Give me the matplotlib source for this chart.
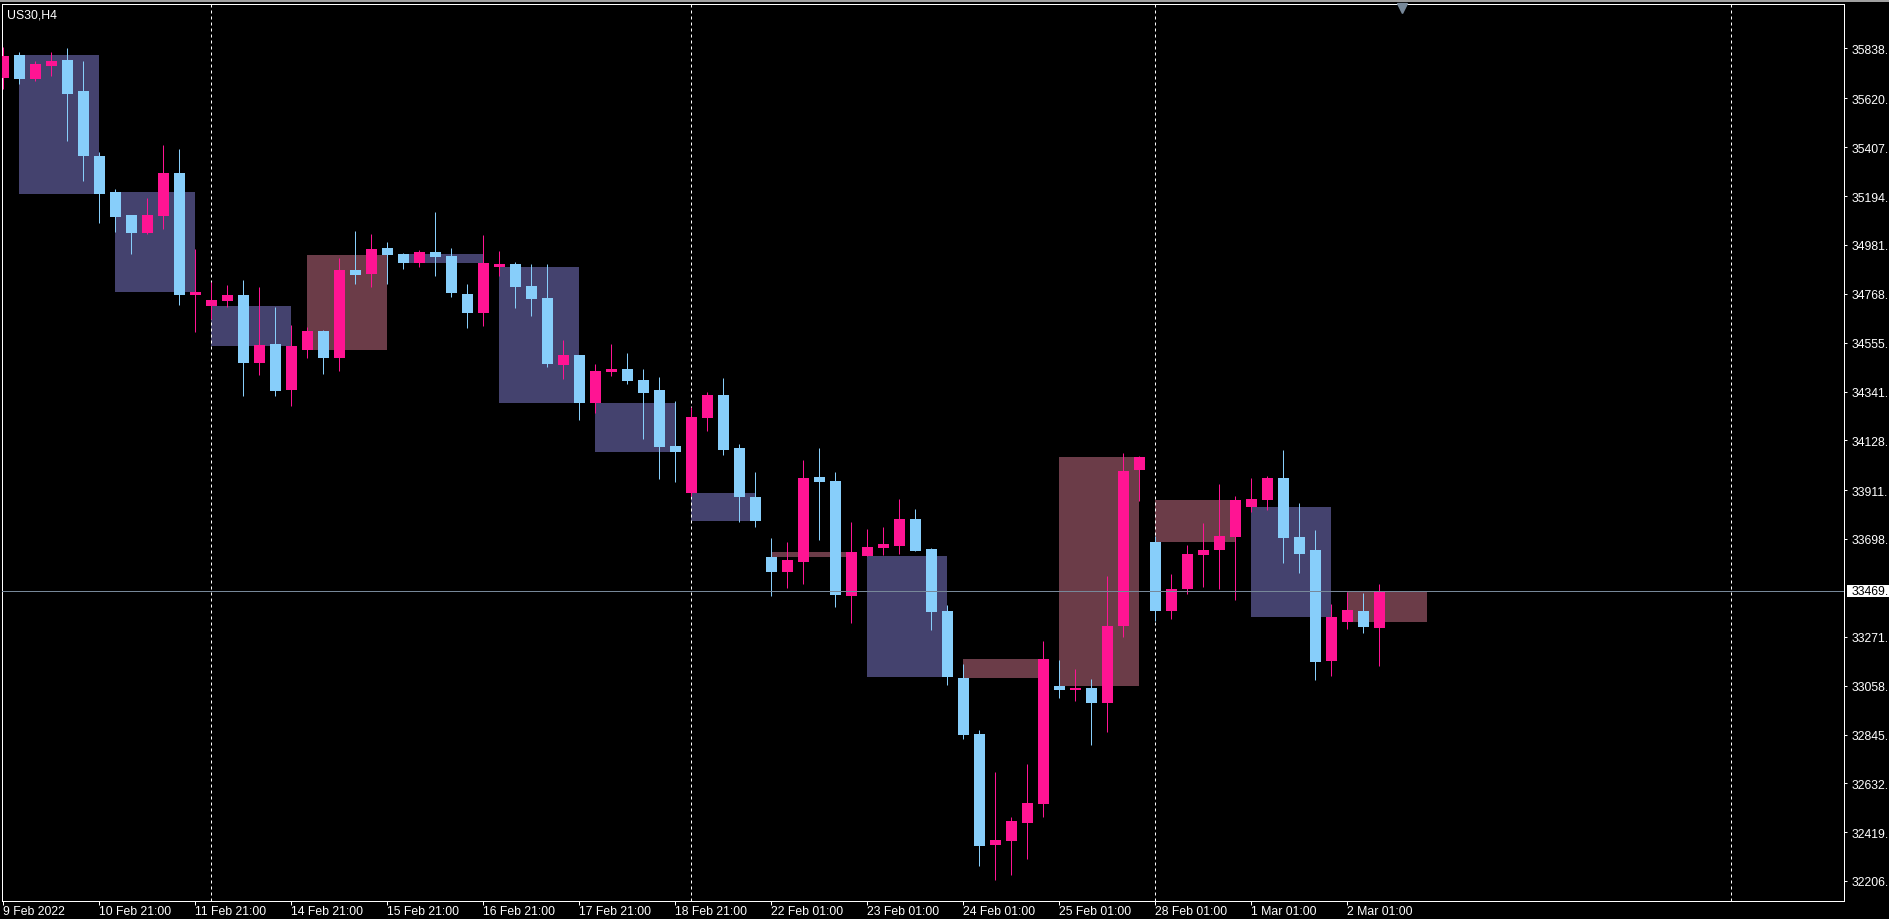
import matplotlib
matplotlib.use("Agg")
import matplotlib.pyplot as plt
import matplotlib.transforms as mtransforms
from matplotlib.patches import Rectangle
from matplotlib.lines import Line2D
import numpy as np

plt.rcParams["font.family"] = ["Liberation Sans", "DejaVu Sans"]

SYMBOL = "US30,H4"

# H4 bars, oldest first
opens = [35710, 35809, 35706, 35763, 35787, 35652, 35369, 35212, 35111, 35034,
         35108, 35295, 34764, 34716, 34738, 34762, 34467, 34549, 34349, 34524,
         34605, 34489, 34871, 34855, 34967, 34941, 34903, 34950, 34932, 34767,
         34685, 34886, 34898, 34802, 34749, 34458, 34501, 34293, 34428, 34440,
         34392, 34348, 34104, 33900, 34227, 34326, 34095, 33881, 33620, 33556,
         33599, 33969, 33951, 33451, 33625, 33660, 33669, 33785, 33654, 33384,
         33092, 32847, 32365, 32382, 32461, 32544, 33057, 33039, 33048, 32983,
         33319, 33999, 33685, 33384, 33480, 33628, 33650, 33707, 33838, 33868,
         33964, 33707, 33650, 33166, 33336, 33384, 33310]
highs = [35843, 35821, 35783, 35821, 35838, 35783, 35385, 35223, 35111, 35184,
         35417, 35399, 34963, 34821, 34806, 34828, 34797, 34710, 34631, 34621,
         34610, 34922, 35042, 35028, 34994, 34946, 34959, 35124, 34967, 34810,
         35024, 34954, 34906, 34898, 34898, 34566, 34501, 34461, 34549, 34509,
         34440, 34405, 34300, 34275, 34339, 34400, 34112, 33990, 33702, 33685,
         34043, 34095, 33990, 33772, 33742, 33750, 33872, 33829, 33659, 33410,
         33153, 32865, 32682, 32485, 32717, 33253, 33170, 33131, 33087, 33537,
         34073, 34060, 33713, 33545, 33672, 33768, 33938, 33886, 33964, 33973,
         34086, 33855, 33737, 33415, 33467, 33462, 33502]
lows = [35661, 35684, 35697, 35719, 35436, 35261, 35078, 35039, 34943, 35028,
        35052, 34720, 34600, 34658, 34709, 34323, 34415, 34323, 34280, 34489,
        34419, 34432, 34810, 34799, 34810, 34876, 34884, 34847, 34755, 34618,
        34629, 34847, 34707, 34672, 34450, 34397, 34219, 34249, 34410, 34376,
        34136, 33961, 33948, 33887, 34171, 34066, 33774, 33752, 33451, 33486,
        33503, 33695, 33403, 33333, 33625, 33630, 33634, 33647, 33302, 33063,
        32826, 32273, 32212, 32234, 32304, 32483, 33005, 32991, 32801, 32858,
        33272, 33864, 33340, 33349, 33458, 33489, 33480, 33432, 33816, 33825,
        33593, 33550, 33083, 33100, 33305, 33288, 33144]
closes = [35803, 35706, 35770, 35783, 35641, 35370, 35204, 35104, 35034, 35111,
          35295, 34764, 34775, 34741, 34762, 34467, 34544, 34345, 34540, 34605,
          34489, 34871, 34851, 34963, 34938, 34903, 34950, 34930, 34772, 34685,
          34902, 34898, 34799, 34746, 34463, 34501, 34293, 34431, 34440, 34389,
          34336, 34101, 34079, 34230, 34326, 34088, 33883, 33778, 33556, 33606,
          33964, 33948, 33455, 33641, 33663, 33676, 33785, 33647, 33381, 33097,
          32844, 32360, 32385, 32468, 32547, 33175, 33039, 33048, 32983, 33319,
          33995, 34056, 33384, 33480, 33633, 33650, 33711, 33868, 33872, 33964,
          33702, 33633, 33162, 33358, 33388, 33314, 33469]

# daily boxes: first and last bar index of each trading day
day_first = [1, 7, 13, 19, 25, 31, 37, 43, 48, 54, 60, 66, 72, 78, 84]
day_last = [6, 12, 18, 24, 30, 36, 42, 47, 53, 59, 65, 71, 77, 83, 89]

week_sep = [13, 43, 72, 108]

date_ticks = [0, 6, 12, 18, 24, 30, 36, 42, 48, 54, 60, 66, 72, 78, 84]
date_labels = ["9 Feb 2022", "10 Feb 21:00", "11 Feb 21:00", "14 Feb 21:00",
               "15 Feb 21:00", "16 Feb 21:00", "17 Feb 21:00", "18 Feb 21:00",
               "22 Feb 01:00", "23 Feb 01:00", "24 Feb 01:00", "25 Feb 01:00",
               "28 Feb 01:00", "1 Mar 01:00", "2 Mar 01:00"]

price_ticks = [35838, 35620, 35407, 35194, 34981, 34768, 34555, 34341, 34128,
               33911, 33698, 33271, 33058, 32845, 32632, 32419, 32206]
last_price = 33469

BULL = "#FF1493"
BEAR = "#87CEFA"
BOX_UP = "#6B3C48"
BOX_DN = "#44426E"
PX = 0.72  # one pixel in points at dpi 100

W, H = 1889, 920
fig = plt.figure(figsize=(W / 100, H / 100), dpi=100, facecolor="black")
ax = fig.add_axes([2.3 / W, 1 - 901.7 / H, (1844 - 2.3) / W, (901.7 - 4.7) / H])
ax.set_facecolor("black")

o = np.array(opens, float)
h = np.array(highs, float)
l = np.array(lows, float)
c = np.array(closes, float)
x = np.arange(len(o))
n = len(o)

ax.set_xlim((2.3 - 3.3) / 16, (1844 - 3.3) / 16)
ax.set_ylim(32120, 36033)
unit_per_px = (36033 - 32120) / (901.7 - 4.7)

# daily range boxes
for f, e in zip(day_first, day_last):
    bo = o[f]
    bc = c[min(e, n - 1)]
    ax.bar(f, bc - bo, bottom=bo, width=e - f, align="edge",
           color=BOX_UP if bc >= bo else BOX_DN, linewidth=0, zorder=1)

for s in week_sep:
    ax.axvline(s, color="white", lw=PX, ls=(0, (3, 3)), zorder=2)

cols = np.where(c >= o, BULL, BEAR)
ax.vlines(x, l, h, colors=cols, lw=PX, zorder=3)
body = np.maximum(np.abs(c - o), unit_per_px)
ax.bar(x, body, bottom=np.minimum(o, c), width=11 / 16, color=cols,
       linewidth=0, zorder=4)

ax.axhline(last_price, color="#778899", lw=PX, zorder=5)

for sp in ax.spines.values():
    sp.set_color("white")
    sp.set_linewidth(PX)

ax.set_xticks(date_ticks)
ax.set_xticklabels(date_labels, ha="left")
ax.yaxis.tick_right()
ax.set_yticks(price_ticks)
ax.set_yticklabels([f"{v}." for v in price_ticks])
ax.tick_params(axis="x", colors="white", length=4 * PX, width=PX, pad=0.3,
               labelsize=8.8)
ax.tick_params(axis="y", colors="white", length=3 * PX, width=PX, pad=3.3,
               labelsize=8.8)

# current price tag
blend = mtransforms.blended_transform_factory(fig.transFigure, ax.transData)
tag_h = 12 * unit_per_px
ax.add_patch(Rectangle((1846.7 / W, last_price - tag_h / 2), (W - 1846.7) / W,
                       tag_h, transform=blend, facecolor="white",
                       edgecolor="none", clip_on=False, zorder=6))
ax.text(1851.6 / W, last_price, f"{last_price}.", transform=blend, color="black",
        va="center", ha="left", fontsize=8.8, zorder=7, clip_on=False)

# chart shift marker
top_blend = mtransforms.blended_transform_factory(ax.transData, ax.transAxes)
ax.plot([n + 0.4], [0.9955], marker="v", markersize=6.5, color="#778899",
        transform=top_blend, clip_on=False, zorder=6)

# window edge above the chart
fig.add_artist(Line2D([0, 1], [1 - 1.5 / H, 1 - 1.5 / H], color="#A0A0A0",
                      lw=2 * PX))

fig.text(6.7 / W, 1 - 15.3 / H, SYMBOL, color="white", fontsize=8.8,
         va="center", ha="left")

fig.savefig("out.png", dpi=100, facecolor="black")
